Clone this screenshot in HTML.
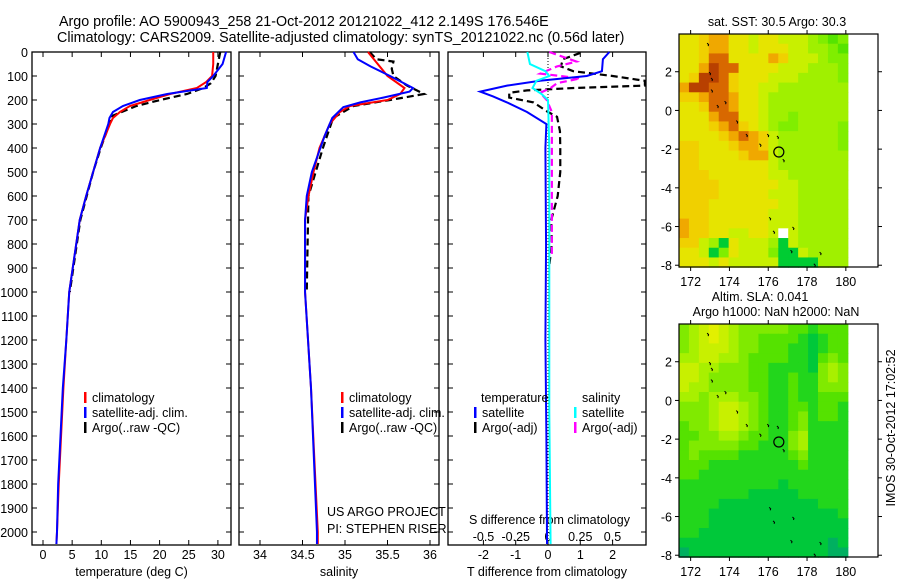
<!DOCTYPE html>
<html><head><meta charset="utf-8">
<style>
html,body{margin:0;padding:0;background:#fff;}
svg{display:block;font-family:"Liberation Sans",sans-serif;}
text{font-size:12.5px;fill:#000;}
</style></head>
<body>
<svg id="chart" width="900" height="580" viewBox="0 0 900 580" xmlns="http://www.w3.org/2000/svg">
<text x="59" y="26" style="font-size:14.3px">Argo profile: AO 5900943_258 21-Oct-2012 20121022_412 2.149S 176.546E</text>
<text x="57" y="42" style="font-size:14.3px">Climatology: CARS2009. Satellite-adjusted climatology: synTS_20121022.nc (0.56d later)</text>
<g id="g"></g>
</svg>
<script>
// ---------- data ----------
const tDepth=[0,50,100,125,150,175,200,225,250,275,300,400,500,600,700,800,900,1000,1200,1400,1600,1800,2000,2050];
const tClim=[29.2,29.2,29.0,28.0,26.4,21.8,18.3,14.9,13.2,12,11.5,9.8,8.6,7.4,6.3,5.7,5.1,4.5,4.0,3.5,3.1,2.7,2.4,2.3];
const tSatDepth=[0,50,100,125,150,175,200,225,250,275,300,400,500,600,700,800,900,1000,1200,1400,1600,1800,2000,2050];
const tSat=[31.4,30.8,29.2,28.2,28.1,21.3,16.6,13.7,12,11.4,11.2,9.8,8.6,7.4,6.3,5.7,5.1,4.5,4.0,3.4,3.0,2.6,2.4,2.3];
const tArgoDepth=[0,50,100,130,150,175,200,225,250,270,300,400,500,600,700,800,900,1000];
const tArgo=[30.4,30.0,29.6,28.8,27.5,24.7,20.1,16,13.5,11.5,11.4,9.9,8.6,7.5,6.4,5.8,5.2,4.6];
const sDepth=[0,100,150,175,200,225,250,300,400,500,600,700,1000,1400,2000,2050];
const sClim=[35.27,35.5,35.7,35.65,35.5,35.06,34.94,34.82,34.7,34.63,34.57,34.53,34.53,34.6,34.68,34.68];
const sSatDepth=[0,30,60,100,150,165,190,210,230,275,350,500,600,700,1000,1400,2000,2050];
const sSat=[35.1,35.15,35.3,35.53,35.8,35.76,35.45,35.18,34.98,34.85,34.76,34.61,34.55,34.53,34.53,34.6,34.67,34.67];
const sArgoDepth=[0,30,40,70,100,140,175,200,225,275,400,600,1000];
const sArgo=[35.29,35.37,35.57,35.55,35.57,35.73,35.93,35.53,35.1,34.86,34.74,34.57,34.55];
const dTSatDepth=[0,30,80,100,120,140,165,185,210,250,300,400,800,1200,1600,2050];
const dTSat=[1.9,1.7,1.67,1.2,-0.25,-1.27,-2.1,-1.7,-1.27,-0.65,-0.05,-0.08,-0.06,-0.08,-0.05,-0.03];
const dTArgoDepth=[4,30,60,80,100,120,140,150,160,170,190,210,250,270,330,400,500,600,700,800,900];
const dTArgo=[1.0,0.46,0.4,0.78,2.0,3.0,3.0,0.8,-0.65,-1.2,-1.2,-0.45,0.0,0.28,0.37,0.38,0.38,0.3,0.1,0.12,0.03];
const dSSatDepth=[0,50,80,100,120,150,175,200,400,1000,1500,2050];
const dSSat=[-0.16,-0.14,-0.02,0.01,-0.09,-0.12,-0.05,0.0,0.01,0.01,0.01,0.02];
const dSArgoDepth=[0,40,60,90,110,130,150,170,200,250,500,850];
const dSArgo=[0.01,0.22,0.07,-0.06,0.25,0.07,0.02,-0.06,-0.01,0.03,0.03,0.03];
const depthTicks=[0,100,200,300,400,500,600,700,800,900,1000,1100,1200,1300,1400,1500,1600,1700,1800,1900,2000];
const tempTicks=[0,5,10,15,20,25,30];
const salTicks=[34,34.5,35,35.5,36];
const dTTicks=[-2,-1,0,1,2];
const dSTicks=[-0.5,-0.25,0,0.25,0.5];
const dSTickLabels=["-0.5","-0.25","0","0.25","0.5"];
const lonTicks=[172,174,176,178,180];
const latTicks=[2,0,-2,-4,-6,-8];
const sstGrid=["66788665665554323","66788665666554432","66799666687555433","668a9966665554443","67aa9766655544443","8aa99766554444444","77899866544444444","66799866544444444","66689966544344444","66678976543344443","66667898754444443","77666788754444443","77666678854444444","77666666654444444","77766666655444444","77776666665544444","77776666655544444","77766666665544444","77766666655544444","87766666655544444","8776655665w544444","77541655541544444","66513655531154444","66656555551111444"];
const slaGrid=["45676544444332333","45676544333321233","45666544333221233","55665543333221343","66554443322221454","66544443322322454","65544443322322444","55455544322322333","44456654322332332","44456654322342332","34456654322342222","33445543322452222","34444433222452222","34333322222342222","33322222222232222","33222222222222222","22222222221222222","22222221111122222","22221111111111222","22211111111111112","22211111111111111","22111111111111111","11111111111111101","01111111111111100"];
const sstColors={"0":"#1aa88a","1":"#00cc33","2":"#55e400","3":"#80ee00","4":"#a0f000","5":"#c8f000","6":"#e6e400","7":"#f0d000","8":"#f0a800","9":"#d86800","a":"#b84000","w":"#ffffff"};
const slaColors={"0":"#00b060","1":"#00c83a","2":"#22d61c","3":"#55e200","4":"#80ea00","5":"#a8f000","6":"#c8f000","7":"#e2f000"};
const islands=[[172.9,3.4],[173.0,1.9],[173.1,1.6],[173.1,1.0],[173.4,0.2],[173.8,0.4],[174.4,-0.6],[174.9,-1.3],[175.6,-1.8],[176.0,-1.3],[176.5,-1.4],[176.8,-2.6],[176.1,-5.6],[176.3,-6.3],[177.3,-6.1],[177.2,-7.3],[178.7,-7.4],[178.4,-8.0]];
const floatPos=[176.546,-2.149];

// ---------- helpers ----------
const NS="http://www.w3.org/2000/svg";
const G=document.getElementById('g');
function mk(tag,attrs,parent){const e=document.createElementNS(NS,tag);for(const k in attrs)e.setAttribute(k,attrs[k]);(parent||G).appendChild(e);return e;}
const yTop=52,yBot=545;
const dY=d=>yTop+d*0.24;
const xT=t=>43+t*5.83;
const xS=s=>260+(s-34)*85;
const xDT=v=>548+v*32.3;
const xDS=v=>548+v*129;

function panel(name,x0,x1,ticks,fx,labels,titleTxt){
  const r=mk('rect',{x:x0,y:yTop,width:x1-x0,height:yBot-yTop,fill:'none',stroke:'#000','stroke-width':1.3});
  
  
  ticks.forEach((v,i)=>{const x=fx(v);
    mk('line',{x1:x,x2:x,y1:yTop,y2:yTop+5,stroke:'#000'});
    mk('line',{x1:x,x2:x,y1:yBot,y2:yBot-5,stroke:'#000'});
    if(labels){const t=mk('text',{x:x,y:559,'text-anchor':'middle'});t.textContent=labels[i];
      
      }
  });
  depthTicks.forEach(d=>{const y=dY(d);
    mk('line',{x1:x0,x2:x0+5,y1:y,y2:y,stroke:'#000'});
    mk('line',{x1:x1,x2:x1-5,y1:y,y2:y,stroke:'#000'});});
  if(titleTxt){const t=mk('text',{x:(x0+x1)/2,y:576,'text-anchor':'middle'});t.textContent=titleTxt;
    
    }
}
function line(name,xs,ds,fx,color,w,dash,x0,x1){
  const pts=xs.map((v,i)=>[Math.max(x0,Math.min(x1,fx(v))),dY(ds[i])]);
  const p=mk('polyline',{points:pts.map(p=>p.join(',')).join(' '),fill:'none',stroke:color,'stroke-width':w});
  if(dash)p.setAttribute('stroke-dasharray',dash);
  
  
}
function txt(name,x,y,s,anchor){const t=mk('text',{x:x,y:y});if(anchor)t.setAttribute('text-anchor',anchor);t.textContent=s;
  
  return t;}
function mark(name,x,y,color){const r=mk('rect',{x:x,y:y-10,width:2.5,height:11,fill:color});
  
  }

depthTicks.forEach(d=>{txt('depth-tick-label',28,dY(d)+5,String(d),'end');});

// panel 1
panel('temperature-panel',32,231,tempTicks,xT,tempTicks.map(String),'temperature (deg C)');
line('temp-argo-line',tArgo,tArgoDepth,xT,'#000',2.2,'7,4',32,231);
line('temp-climatology-line',tClim,tDepth,xT,'#f00',2,null,32,231);
line('temp-satellite-line',tSat,tSatDepth,xT,'#00f',2,null,32,231);
mark('legend-climatology-marker',84,402,'#f00');txt('legend-climatology',92,402,'climatology');
mark('legend-satellite-marker',84,417,'#00f');txt('legend-satellite-adj',92,417,'satellite-adj. clim.');
mark('legend-argo-marker',84,432,'#000');txt('legend-argo',92,432,'Argo(..raw -QC)');

// panel 2
panel('salinity-panel',239,439,salTicks,xS,salTicks.map(String),'salinity');
line('sal-argo-line',sArgo,sArgoDepth,xS,'#000',2.2,'7,4',239,439);
line('sal-climatology-line',sClim,sDepth,xS,'#f00',2,null,239,439);
line('sal-satellite-line',sSat,sSatDepth,xS,'#00f',2,null,239,439);
mark('legend2-climatology-marker',341,402,'#f00');txt('legend2-climatology',349,402,'climatology');
mark('legend2-satellite-marker',341,417,'#00f');txt('legend2-satellite-adj',349,417,'satellite-adj. clim.');
mark('legend2-argo-marker',341,432,'#000');txt('legend2-argo',349,432,'Argo(..raw -QC)');
txt('project-label',327,516,'US ARGO PROJECT');
txt('pi-label',327,533,'PI: STEPHEN RISER');

// panel 3
panel('difference-panel',448,646,dTTicks,xDT,dTTicks.map(String),'T difference from climatology');
dSTicks.forEach((v,i)=>{txt('s-diff-tick-label',xDS(v),541,dSTickLabels[i],'middle');});
txt('s-diff-axis-title',469,524,'S difference from climatology');
mk('line',{x1:548,x2:548,y1:yTop,y2:yBot,stroke:'#000','stroke-dasharray':'1,2','stroke-width':1});
line('dT-argo-line',dTArgo,dTArgoDepth,xDT,'#000',2.2,'7,4',448,646);
line('dS-argo-line',dSArgo,dSArgoDepth,xDS,'#f0f',2.2,'7,4',448,646);
line('dT-satellite-line',dTSat,dTSatDepth,xDT,'#00f',2,null,448,646);
line('dS-satellite-line',dSSat,dSSatDepth,xDS,'#0ff',2,null,448,646);
txt('legend3-temperature-heading',481,402,'temperature');
txt('legend3-salinity-heading',582,402,'salinity');
mark('legend3-t-sat-marker',474,417,'#00f');txt('legend3-t-satellite',482,417,'satellite');
mark('legend3-t-argo-marker',474,432,'#000');txt('legend3-t-argo',482,432,'Argo(-adj)');
mark('legend3-s-sat-marker',574,417,'#0ff');txt('legend3-s-satellite',582,417,'satellite');
mark('legend3-s-argo-marker',574,432,'#f0f');txt('legend3-s-argo',582,432,'Argo(-adj)');

// maps
const mapX0=679,mapX1=878,lonL=171.4,pxDeg=19.4;
const mLon=l=>mapX0+(l-lonL)*pxDeg;
function map(name,top,grid,colors,titles){
  const latTop=3.95;
  const mLat=la=>top+(latTop-la)*19.35;
  const rows=grid.length,cols=grid[0].length;
  const cw=(180.1-lonL)/cols,ch=12.05/rows;
  grid.forEach((row,ri)=>{[...row].forEach((c,ci)=>{
    const x=mLon(lonL+ci*cw),y=mLat(latTop-ri*ch);
    const r=mk('rect',{x:x,y:y,width:cw*pxDeg+0.6,height:ch*19.35+0.6,fill:colors[c]});
    
    
  });});
  islands.forEach(p=>{const x=mLon(p[0]),y=mLat(p[1]);
    mk('path',{d:`M${x-1},${y-1.5} l1.5,1.5 l-0.5,1.5`,stroke:'#000',fill:'none','stroke-width':1});});
  const c=mk('circle',{cx:mLon(floatPos[0]),cy:mLat(floatPos[1]),r:5,fill:'none',stroke:'#000','stroke-width':1.2});
  
  
  const bottom=top+233;
  const f=mk('rect',{x:mapX0,y:top,width:mapX1-mapX0,height:233,fill:'none',stroke:'#000','stroke-width':1.2});
  
  
  lonTicks.forEach(l=>{const x=mLon(l);
    mk('line',{x1:x,x2:x,y1:top,y2:top-4,stroke:'#000'});mk('line',{x1:x,x2:x,y1:bottom,y2:bottom+4,stroke:'#000'});
    txt(name+'-lon-label',x,bottom+19,String(l),'middle');});
  latTicks.forEach(la=>{const y=mLat(la);
    mk('line',{x1:mapX0,x2:mapX0-4,y1:y,y2:y,stroke:'#000'});mk('line',{x1:mapX1,x2:mapX1+4,y1:y,y2:y,stroke:'#000'});
    txt(name+'-lat-label',mapX0-7,y+5,String(la),'end');});
  titles.forEach((t,i)=>txt(name+'-title',t[1],top-8-(titles.length-1-i)*15,t[0],'middle'));
}
map('sst-map',34,sstGrid,sstColors,[['sat. SST: 30.5 Argo: 30.3',777]]);
map('sla-map',324,slaGrid,slaColors,[['Altim. SLA: 0.041',760],['Argo h1000: NaN h2000: NaN',776]]);
const v=txt('imos-timestamp',0,0,'IMOS 30-Oct-2012 17:02:52','middle');
v.setAttribute('transform','translate(895,428) rotate(-90)');
</script>
</body></html>
